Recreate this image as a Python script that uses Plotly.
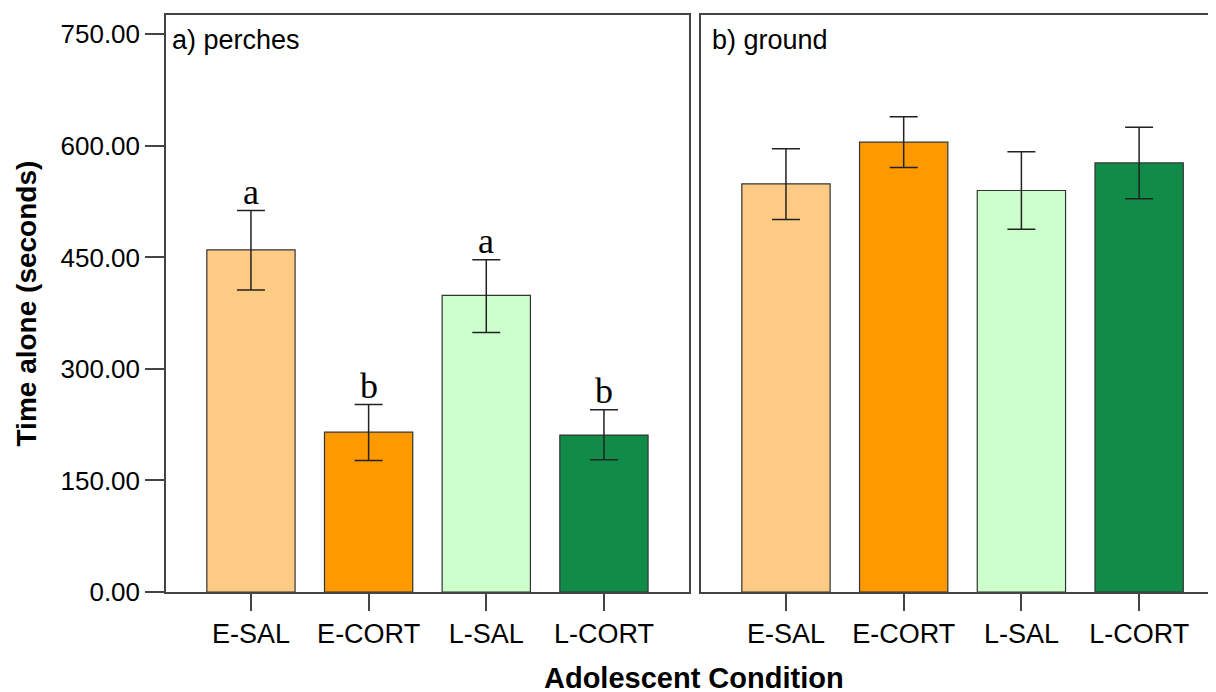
import plotly.graph_objects as go

categories = ["E-SAL", "E-CORT", "L-SAL", "L-CORT"]
perches_mean = [460, 215, 399, 211]
perches_err_plus = [53, 37, 48, 34]
perches_err_minus = [54, 38, 50, 33]
ground_mean = [549, 605, 540, 577]
ground_err_plus = [47, 34, 52, 48]
ground_err_minus = [48, 34, 52, 48]
sig_letters = ["a", "b", "a", "b"]
bar_colors = ["#FECB85", "#FE9900", "#CCFFCC", "#108C48"]
y_ticks = [0, 150, 300, 450, 600, 750]
y_tick_text = ["0.00", "150.00", "300.00", "450.00", "600.00", "750.00"]

SANS = "Liberation Sans, Arial, sans-serif"
SERIF = "Liberation Serif, Times New Roman, serif"

fig = go.Figure()

err_style = dict(type="data", symmetric=False, color="#222222", thickness=1.5, width=14)

fig.add_trace(go.Bar(
    x=list(range(len(categories))), y=perches_mean,
    marker=dict(color=bar_colors, line=dict(color="#333333", width=1.2)),
    width=0.75,
    error_y=dict(array=perches_err_plus, arrayminus=perches_err_minus, **err_style),
    xaxis="x", yaxis="y", showlegend=False, hoverinfo="skip"))

fig.add_trace(go.Bar(
    x=list(range(len(categories))), y=ground_mean,
    marker=dict(color=bar_colors, line=dict(color="#333333", width=1.2)),
    width=0.75,
    error_y=dict(array=ground_err_plus, arrayminus=ground_err_minus, **err_style),
    xaxis="x2", yaxis="y2", showlegend=False, hoverinfo="skip"))

# significance letters
for i, (m, e, t) in enumerate(zip(perches_mean, perches_err_plus, sig_letters)):
    fig.add_annotation(x=i, y=m + e, xref="x", yref="y", text=t, showarrow=False,
                       yanchor="bottom", yshift=-3,
                       font=dict(family=SERIF, size=36, color="black"))

axis_common = dict(showgrid=False, zeroline=False, linecolor="#444444", linewidth=1.5)

fig.update_layout(
    width=1208, height=684,
    margin=dict(l=158, r=0, t=7, b=100),
    paper_bgcolor="white", plot_bgcolor="white",
    xaxis=dict(domain=[0, 0.498], range=[-0.722, 3.722], showline=True, mirror=True,
               tickmode="array", tickvals=list(range(len(categories))), ticktext=categories,
               ticks="outside", ticklen=17, tickwidth=1.5, tickcolor="#444444",
               tickfont=dict(family=SANS, size=27, color="black"), **axis_common),
    yaxis=dict(domain=[0, 1], range=[0, 776], showline=True, mirror=True,
               tickmode="array", tickvals=y_ticks, ticktext=y_tick_text,
               ticks="outside", ticklen=19, tickwidth=1.5, tickcolor="#444444",
               tickfont=dict(family=SANS, size=26, color="black"),
               **axis_common),
    xaxis2=dict(domain=[0.5095, 1], range=[-0.722, 3.653], showline=True, mirror=True,
                tickmode="array", tickvals=list(range(len(categories))), ticktext=categories,
                ticks="outside", ticklen=17, tickwidth=1.5, tickcolor="#444444",
                tickfont=dict(family=SANS, size=27, color="black"), anchor="y2", **axis_common),
    yaxis2=dict(domain=[0, 1], range=[0, 776], showline=True, mirror=False,
                showticklabels=False, ticks="", anchor="x2", **axis_common),
)

fig.add_annotation(x=0.004, y=0.9567, xref="paper", yref="paper", text="a) perches",
                   showarrow=False, xanchor="left", yanchor="middle",
                   font=dict(family=SANS, size=27, color="black"))
fig.add_annotation(x=0.518, y=0.9567, xref="paper", yref="paper", text="b) ground",
                   showarrow=False, xanchor="left", yanchor="middle",
                   font=dict(family=SANS, size=27, color="black"))
fig.add_annotation(x=-0.1324, y=0.5, xref="paper", yref="paper",
                   text="<b>Time alone (seconds)</b>", showarrow=False, textangle=-90,
                   xanchor="center", yanchor="middle",
                   font=dict(family=SANS, size=28, color="black"))
fig.add_annotation(x=0.503, y=-0.149, xref="paper", yref="paper",
                   text="<b>Adolescent Condition</b>", showarrow=False,
                   xanchor="center", yanchor="middle",
                   font=dict(family=SANS, size=29, color="black"))

fig.write_html("out.html")
